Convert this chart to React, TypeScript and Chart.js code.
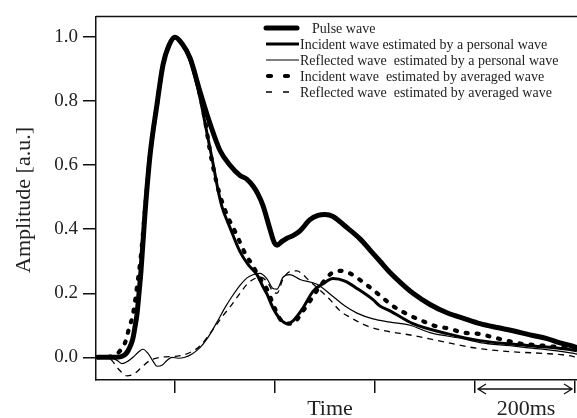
import React, { useEffect, useRef } from "react";
import { Chart, registerables } from "chart.js";

Chart.register(...registerables);

// Time axis in ms, amplitude in a.u.
const xTicks = [200, 400, 600, 800, 1000];
const yTicks = [0, 0.2, 0.4, 0.6, 0.8, 1.0];

const pulseT = [46,80,92,100,106,112,116,120,124,128,132,140,150,164,176,188,200,214,230,250,270,290,310,330,344,356,366,376,390,398,404,414,424,436,450,470,486,500,516,540,570,590,610,630,650,676,710,744,780,810,844,876,910,944,970,990,1004];
const pulseV = [0,0,0.002,0.008,0.02,0.04,0.06,0.095,0.135,0.2,0.27,0.45,0.63,0.79,0.914,0.975,1.0,0.98,0.935,0.83,0.73,0.646,0.6,0.568,0.556,0.535,0.51,0.474,0.40,0.36,0.35,0.362,0.372,0.38,0.395,0.43,0.443,0.446,0.44,0.41,0.37,0.335,0.3,0.265,0.235,0.2,0.165,0.139,0.12,0.105,0.093,0.083,0.07,0.058,0.045,0.037,0.03];

const incPT = [46,80,92,100,106,112,116,120,124,128,132,140,150,164,176,188,200,214,230,250,264,276,286,294,310,330,346,364,376,384,396,410,424,436,456,476,496,516,540,564,596,610,630,676,744,810,904,998,1004];
const incPV = [0,0,0.002,0.008,0.02,0.04,0.06,0.095,0.135,0.2,0.27,0.45,0.63,0.79,0.914,0.975,1.0,0.98,0.93,0.81,0.7,0.606,0.523,0.47,0.405,0.33,0.29,0.258,0.22,0.197,0.154,0.12,0.105,0.114,0.154,0.206,0.23,0.246,0.238,0.215,0.18,0.16,0.145,0.105,0.074,0.052,0.037,0.022,0.02];

const refPT = [74,86,94,106,116,126,136,146,156,164,174,184,194,206,220,234,250,266,284,300,314,330,344,356,370,384,396,404,416,430,450,484,516,540,564,596,630,670,710,776,810,870,930,998,1004];
const refPV = [0,-0.012,-0.02,-0.012,0,0.015,0.025,0.012,-0.012,-0.028,-0.025,-0.01,0,-0.003,0,0.01,0.03,0.062,0.11,0.155,0.19,0.225,0.248,0.258,0.262,0.245,0.215,0.213,0.25,0.258,0.243,0.228,0.19,0.16,0.138,0.12,0.11,0.1,0.077,0.058,0.046,0.036,0.026,0.012,0.01];

const incAT = [46,70,80,90,100,108,116,124,132,140,150,164,176,188,200,214,230,250,260,270,284,300,324,340,354,370,386,396,410,422,434,456,474,490,520,536,550,580,610,636,664,694,720,750,776,804,838,864,890,924,960,990,1004];
const incAV = [0,0.002,0.006,0.02,0.045,0.09,0.135,0.22,0.32,0.46,0.63,0.79,0.914,0.975,1.0,0.98,0.935,0.82,0.74,0.645,0.54,0.46,0.38,0.325,0.29,0.246,0.206,0.166,0.12,0.105,0.105,0.145,0.185,0.222,0.268,0.27,0.262,0.23,0.193,0.16,0.135,0.114,0.098,0.089,0.077,0.074,0.062,0.052,0.043,0.038,0.033,0.03,0.028];

const refAT = [50,70,86,104,120,134,150,170,190,210,230,250,270,296,314,330,344,356,370,384,396,404,416,430,444,456,470,490,510,530,550,584,610,676,744,804,876,938,984,1004];
const refAV = [0,-0.005,-0.035,-0.058,-0.05,-0.03,-0.01,0,0.002,0.005,0.015,0.035,0.074,0.13,0.165,0.2,0.228,0.243,0.25,0.237,0.205,0.2,0.245,0.268,0.27,0.258,0.237,0.21,0.18,0.145,0.125,0.098,0.086,0.068,0.046,0.028,0.017,0.012,0.006,0];

const labels = [
  "Pulse wave",
  "Incident wave estimated by a personal wave",
  "Reflected wave  estimated by a personal wave",
  "Incident wave  estimated by averaged wave",
  "Reflected wave  estimated by averaged wave",
];

const SERIF = "'Liberation Serif', 'Times New Roman', serif";
const INK = "#111";
const TXT = "#222";

const toPts = (t: number[], v: number[]) => t.map((x, i) => ({ x, y: v[i] }));

const overlay = {
  id: "overlay",
  afterDraw(chart: any) {
    const ctx = chart.ctx as CanvasRenderingContext2D;
    const { left, top } = chart.chartArea;
    const xs = chart.scales.x;
    ctx.save();
    // top frame line
    ctx.strokeStyle = INK;
    ctx.lineWidth = 1.5;
    ctx.beginPath();
    ctx.moveTo(left, top);
    ctx.lineTo(chart.width, top);
    ctx.stroke();

    // y title
    ctx.fillStyle = TXT;
    ctx.font = `22px ${SERIF}`;
    ctx.textAlign = "center";
    ctx.textBaseline = "middle";
    ctx.save();
    ctx.translate(24, 200);
    ctx.rotate(-Math.PI / 2);
    ctx.fillText("Amplitude [a.u.]", 0, 0);
    ctx.restore();

    // x title
    ctx.font = `22px ${SERIF}`;
    ctx.textBaseline = "alphabetic";
    ctx.fillText("Time", 330, 415);
    // scale bar
    const x1 = xs.getPixelForValue(xTicks[3]);
    const x2 = xs.getPixelForValue(xTicks[4]);
    ctx.fillText("200ms", (x1 + x2) / 2 + 1, 415);
    const ay = 389;
    ctx.lineWidth = 1.3;
    ctx.beginPath();
    ctx.moveTo(x1 + 3, ay);
    ctx.lineTo(x2 - 3, ay);
    ctx.moveTo(x1 + 11, ay - 5);
    ctx.lineTo(x1 + 3, ay);
    ctx.lineTo(x1 + 11, ay + 5);
    ctx.moveTo(x2 - 11, ay - 5);
    ctx.lineTo(x2 - 3, ay);
    ctx.lineTo(x2 - 11, ay + 5);
    ctx.stroke();

    // legend
    const rowY = [28, 44, 60, 76, 92];
    const lx0 = 266;
    const lx1 = 299;
    ctx.font = `14px ${SERIF}`;
    ctx.textAlign = "left";
    ctx.textBaseline = "middle";
    chart.data.datasets.forEach((ds: any, i: number) => {
      const y = rowY[i];
      ctx.save();
      ctx.strokeStyle = "#000";
      ctx.lineWidth = ds.borderWidth;
      ctx.lineCap = i === 0 || i === 3 ? "round" : "butt";
      if (i === 3) ctx.setLineDash([3, 14]);
      if (i === 4) ctx.setLineDash([6, 11]);
      ctx.beginPath();
      ctx.moveTo(i === 3 ? lx0 + 2 : lx0, y);
      ctx.lineTo(i === 0 ? lx1 - 2 : lx1, y);
      ctx.stroke();
      ctx.restore();
      ctx.fillStyle = TXT;
      ctx.fillText(labels[i], i === 0 ? 312 : 300, y + 1);
    });
    ctx.restore();
  },
};

export default function App() {
  const ref = useRef<HTMLCanvasElement | null>(null);
  useEffect(() => {
    if (!ref.current) return;
    const common = {
      pointRadius: 0,
      fill: false,
      cubicInterpolationMode: "monotone" as const,
      borderColor: "#000",
    };
    const chart = new Chart(ref.current, {
      type: "line",
      data: {
        datasets: [
          { ...common, label: labels[0], data: toPts(pulseT, pulseV), borderWidth: 5, borderJoinStyle: "round", borderCapStyle: "round" },
          { ...common, label: labels[1], data: toPts(incPT, incPV), borderWidth: 3 },
          { ...common, label: labels[2], data: toPts(refPT, refPV), borderWidth: 1.2 },
          { ...common, label: labels[3], data: toPts(incAT, incAV), borderWidth: 4.2, borderDash: [2, 9], borderCapStyle: "round" },
          { ...common, label: labels[4], data: toPts(refAT, refAV), borderWidth: 1.3, borderDash: [6, 5] },
        ],
      },
      options: {
        animation: false,
        responsive: false,
        devicePixelRatio: 1,
        layout: { padding: { top: 12, right: 0, left: 0, bottom: 0 } },
        plugins: { legend: { display: false }, tooltip: { enabled: false } },
        scales: {
          x: {
            type: "linear",
            min: 42,
            max: 1004,
            afterFit: (s: any) => { s.height = 38; },
            afterBuildTicks: (s: any) => { s.ticks = xTicks.map((v) => ({ value: v })); },
            ticks: { display: false },
            grid: { display: true, drawOnChartArea: false, drawTicks: true, tickLength: 13, color: INK, lineWidth: 1.5 },
            border: { display: true, color: INK, width: 1.5 },
          },
          y: {
            type: "linear",
            min: -0.071,
            max: 1.065,
            afterFit: (s: any) => { s.width = 96; },
            afterBuildTicks: (s: any) => { s.ticks = yTicks.map((v) => ({ value: v })); },
            ticks: {
              padding: 5,
              color: TXT,
              font: { family: SERIF, size: 19 },
              callback: (v: any) => Number(v).toFixed(1),
            },
            grid: { display: true, drawOnChartArea: false, drawTicks: true, tickLength: 13, color: INK, lineWidth: 1.5 },
            border: { display: true, color: INK, width: 1.5 },
          },
        },
      },
      plugins: [overlay],
    });
    return () => chart.destroy();
  }, []);
  return (
    <div style={{ position: "absolute", left: 0, top: 0, width: 577, height: 418, background: "#fff" }}>
      <canvas ref={ref} width={577} height={418} />
    </div>
  );
}
